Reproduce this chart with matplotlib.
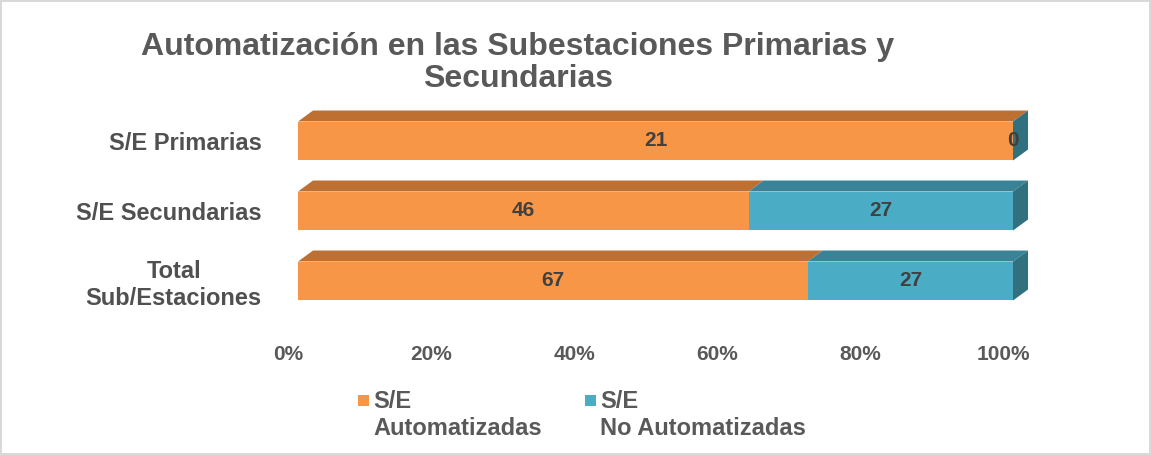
import matplotlib.pyplot as plt
import matplotlib.transforms as mtransforms
from matplotlib.patches import Polygon, Rectangle

plt.rcParams['font.family'] = ['Liberation Sans', 'DejaVu Sans']

categorias = ['S/E Primarias', 'S/E Secundarias', 'Total\nSub/Estaciones']
automatizadas = [21, 46, 67]
no_automatizadas = [0, 27, 27]
series = ['S/E\nAutomatizadas', 'S/E\nNo Automatizadas']
ticks = [0, 20, 40, 60, 80, 100]

frente = ['#F79646', '#4BACC6']
arriba = ['#BE7033', '#3A8296']
lado = ['#BE7033', '#31717F']

W, H = 1151, 455
fig = plt.figure(figsize=(W / 100, H / 100), dpi=100)
fig.patch.set_edgecolor('#D9D9D9')
fig.patch.set_linewidth(1.5)
ax = fig.add_axes([298 / W, 1 - 316 / H, 715 / W, 210 / H])

h = 0.557
dx = 2.1
dy = 0.157

for i in range(len(categorias)):
    total = automatizadas[i] + no_automatizadas[i]
    partes = [automatizadas[i] / total * 100, no_automatizadas[i] / total * 100]
    vals = [automatizadas[i], no_automatizadas[i]]
    izq = 0
    top = i - h / 2
    bot = i + h / 2
    for j in range(2):
        w = partes[j]
        ax.barh(i, w, left=izq, height=h, color=frente[j], edgecolor='none', zorder=2)
        if w > 0:
            ax.add_patch(Polygon([(izq, top), (izq + dx, top - dy), (izq + w + dx, top - dy), (izq + w, top)],
                                 closed=True, facecolor=arriba[j], edgecolor='none', zorder=2,
                                 clip_on=False))
        ax.text(izq + w / 2, i, str(vals[j]), ha='center', va='center',
                fontsize=15, fontweight='bold', color='#404040', zorder=4)
        izq += w
    # cara lateral del extremo derecho
    ax.add_patch(Polygon([(100, top), (100 + dx, top - dy), (100 + dx, bot - dy), (100, bot)],
                         closed=True, facecolor=lado[1], edgecolor='none', zorder=3, clip_on=False))

ax.set_xlim(0, 100)
ax.set_ylim(len(categorias) - 0.5, -0.5)
ax.set_xticks(ticks)
ax.set_xticklabels([f'{t}%' for t in ticks])
ax.set_yticks(range(len(categorias)))
ax.set_yticklabels(categorias, multialignment='center')
ax.tick_params(axis='x', length=0, pad=21, labelsize=15, labelcolor='#595959')
ax.tick_params(axis='y', length=0, pad=26, labelsize=17, labelcolor='#505050')
desplaza = mtransforms.ScaledTranslation(-10 / 100, 0, fig.dpi_scale_trans)
for lab in ax.get_xticklabels():
    lab.set_transform(lab.get_transform() + desplaza)
for lab in ax.get_xticklabels() + ax.get_yticklabels():
    lab.set_fontweight('bold')
for s in ax.spines.values():
    s.set_visible(False)
ax.patch.set_alpha(0)

fig.text(518 / W, 1 - 63 / H, 'Automatización en las Subestaciones Primarias y\nSecundarias',
         ha='center', va='center', fontsize=23, fontweight='bold', color='#595959', linespacing=1.1)

# leyenda
leg_x = [358, 585]
for j in range(2):
    fig.patches.append(Rectangle((leg_x[j] / W, 1 - 406 / H), 11 / W, 11 / H,
                                 transform=fig.transFigure, facecolor=frente[j], edgecolor='none'))
    fig.text((leg_x[j] + 15) / W, 1 - 390 / H, series[j], ha='left', va='top',
             fontsize=17, fontweight='bold', color='#595959', linespacing=1.2)

fig.savefig('out.png', dpi=100)
